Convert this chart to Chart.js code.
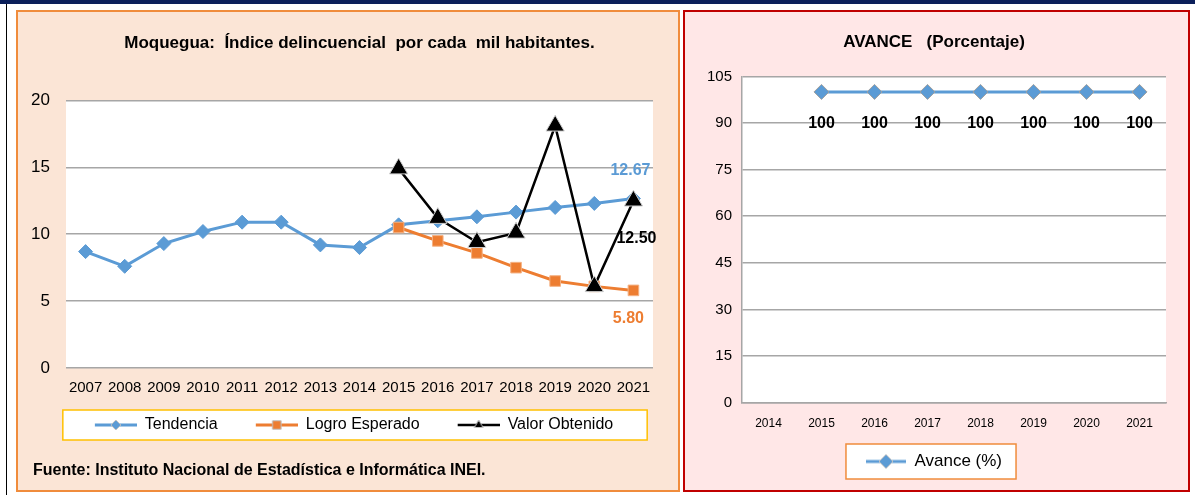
<!DOCTYPE html>
<html>
<head>
<meta charset="utf-8">
<script src="https://cdn.jsdelivr.net/npm/chart.js@4.4.1/dist/chart.umd.min.js"></script>
<style>
  body { margin: 0; width: 1195px; height: 495px; background: #fff; position: relative; overflow: hidden; font-family: "Liberation Sans", Arial, sans-serif; }
  #band { position: absolute; left: 0; top: 0; width: 1195px; height: 4px; background: #0b1f5a; }
  #vline { position: absolute; left: 6px; top: 4px; width: 1px; height: 491px; background: #000; }
  #left { position: absolute; left: 16px; top: 10px; width: 660px; height: 478px; background: #fbe5d6; border: 2px solid #f08c3c; }
  #right { position: absolute; left: 683px; top: 10px; width: 503px; height: 478px; background: #ffe7e7; border: 2px solid #c00000; }
  canvas { position: absolute; left: 0; top: 0; }
  #fuente { position: absolute; left: 15px; top: 449px; font-size: 16px; font-weight: bold; color: #000; white-space: nowrap; }
</style>
</head>
<body>
<div id="band"></div>
<div id="vline"></div>
<div id="left">
  <canvas id="c1" width="660" height="478"></canvas>
  <div id="fuente">Fuente: Instituto Nacional de Estadística e Informática INEI.</div>
</div>
<div id="right">
  <canvas id="c2" width="503" height="478"></canvas>
</div>
<script>
// left chart data
const years = ['2007','2008','2009','2010','2011','2012','2013','2014','2015','2016','2017','2018','2019','2020','2021'];
const tendencia = [8.7, 7.6, 9.3, 10.2, 10.9, 10.9, 9.2, 9.0, 10.7, 11.0, 11.3, 11.65, 12.0, 12.3, 12.67];
const logroEsperado = [null, null, null, null, null, null, null, null, 10.5, 9.5, 8.6, 7.5, 6.5, 6.1, 5.80];
const valorObtenido = [null, null, null, null, null, null, null, null, 14.9, 11.2, 9.4, 10.1, 18.1, 6.1, 12.50];

// right chart data
const avanceYears = ['2014','2015','2016','2017','2018','2019','2020','2021'];
const avance = [null, 100, 100, 100, 100, 100, 100, 100];

const BLUE = '#5b9bd5', ORANGE = '#ed7d31', BLACK = '#000000', GRID = '#a6a6a6';
const FONT = '"Liberation Sans", Arial, sans-serif';

Chart.defaults.font.family = FONT;
Chart.defaults.color = '#000';
Chart.defaults.animation = false;

// line + marker icon for the legend (margin = empty space on the left)
function legendIcon(color, style, radius, lw, w, margin) {
  const c = document.createElement('canvas');
  c.width = w + margin; c.height = 18;
  const g = c.getContext('2d');
  g.strokeStyle = color; g.lineWidth = lw;
  g.beginPath(); g.moveTo(margin, 9); g.lineTo(margin + w, 9); g.stroke();
  g.fillStyle = color; g.strokeStyle = '#bfbfbf'; g.lineWidth = 1;
  Chart.helpers.drawPoint(g, { pointStyle: style, radius: radius, borderWidth: 1, rotation: 0 }, margin + w / 2, 9);
  return c;
}

function iconLabels(chart) {
  return chart.data.datasets.map((d, i) => ({
    text: d.label, pointStyle: d.icon, datasetIndex: i, fontColor: '#000',
    lineWidth: 0, strokeStyle: 'transparent', fillStyle: 'transparent', hidden: false
  }));
}

// white plot area + framed legend box
const panelPlugin = {
  id: 'panel',
  beforeDraw(chart, args, opts) {
    const ctx = chart.ctx, a = chart.chartArea;
    ctx.save();
    ctx.fillStyle = '#fff';
    ctx.fillRect(a.left, a.top, a.right - a.left, a.bottom - a.top);
    const boxes = chart.legend && chart.legend.legendHitBoxes;
    if (boxes && boxes.length) {
      const l = Math.min(...boxes.map(b => b.left)) - opts.padL;
      const r = Math.max(...boxes.map(b => b.left + b.width)) + opts.padR;
      const t = Math.min(...boxes.map(b => b.top)) - opts.padY;
      const btm = Math.max(...boxes.map(b => b.top + b.height)) + opts.padY;
      ctx.fillStyle = '#fff';
      ctx.fillRect(l, t, r - l, btm - t);
      ctx.strokeStyle = opts.frame;
      ctx.lineWidth = 1.5;
      ctx.strokeRect(l, t, r - l, btm - t);
    }
    ctx.restore();
  }
};

// value labels next to points
const valueLabels = {
  id: 'valueLabels',
  afterDatasetsDraw(chart, args, opts) {
    const ctx = chart.ctx;
    ctx.save();
    ctx.font = 'bold 16px ' + FONT;
    ctx.textAlign = 'center';
    ctx.textBaseline = 'middle';
    (opts.items || []).forEach(it => {
      const meta = chart.getDatasetMeta(it.dataset);
      const data = chart.data.datasets[it.dataset].data;
      meta.data.forEach((pt, i) => {
        if (data[i] == null) return;
        if (it.index != null && it.index !== i) return;
        ctx.fillStyle = it.color;
        ctx.fillText(data[i].toFixed(it.digits), pt.x + it.dx, pt.y + it.dy);
      });
    });
    ctx.restore();
  }
};

new Chart(document.getElementById('c1'), {
  type: 'line',
  data: {
    labels: years,
    datasets: [
      { label: 'Tendencia', data: tendencia, order: 2, borderColor: BLUE, backgroundColor: BLUE, borderWidth: 3,
        pointStyle: 'rectRot', pointRadius: 7, pointBorderColor: BLUE, pointBorderWidth: 1,
        icon: legendIcon(BLUE, 'rectRot', 5, 3, 42, 29) },
      { label: 'Logro Esperado', data: logroEsperado, order: 1, borderColor: ORANGE, backgroundColor: ORANGE, borderWidth: 3,
        pointStyle: 'rect', pointRadius: 7.5, pointBorderColor: '#f4b183', pointBorderWidth: 1,
        icon: legendIcon(ORANGE, 'rect', 6, 3, 42, 29) },
      { label: 'Valor Obtenido', data: valorObtenido, order: 0, borderColor: BLACK, backgroundColor: BLACK, borderWidth: 2.5,
        pointStyle: 'triangle', pointRadius: 10.5, pointBorderColor: '#d0d0d0', pointBorderWidth: 1,
        icon: legendIcon(BLACK, 'triangle', 5, 2.5, 42, 29) }
    ]
  },
  options: {
    responsive: false,
    layout: { padding: { left: 8, right: 25, top: 0, bottom: 47 } },
    scales: {
      x: {
        offset: true,
        grid: { display: false, drawTicks: false },
        border: { display: false },
        ticks: { padding: 11, font: { size: 15 }, maxRotation: 0, autoSkip: false }
      },
      y: {
        min: 0, max: 20,
        afterFit(s) { s.width = 40; },
        grid: { color: GRID, lineWidth: 1.5, drawTicks: false },
        border: { display: false },
        ticks: { stepSize: 5, padding: 16, font: { size: 17 } }
      }
    },
    plugins: {
      title: { display: true, fullSize: false, text: 'Moquegua:  Índice delincuencial  por cada  mil habitantes.',
        font: { size: 17, weight: 'bold' }, padding: { top: 21, bottom: 47 } },
      legend: {
        position: 'bottom',
        labels: { usePointStyle: true, pointStyleWidth: 71, padding: 9, font: { size: 16 }, generateLabels: iconLabels }
      },
      tooltip: { enabled: false },
      panel: { padL: 3, padR: 34, padY: 7, frame: '#ffc000' },
      valueLabels: { items: [
        { dataset: 0, index: 14, dx: -3, dy: -28, color: BLUE, digits: 2 },
        { dataset: 2, index: 14, dx: 3, dy: 38, color: BLACK, digits: 2 },
        { dataset: 1, index: 14, dx: -5, dy: 28, color: ORANGE, digits: 2 }
      ] }
    }
  },
  plugins: [panelPlugin, valueLabels]
});

new Chart(document.getElementById('c2'), {
  type: 'line',
  data: {
    labels: avanceYears,
    datasets: [
      { label: 'Avance (%)', data: avance, borderColor: BLUE, backgroundColor: BLUE, borderWidth: 3,
        pointStyle: 'rectRot', pointRadius: 7.5, pointBorderColor: '#a0a0a0', pointBorderWidth: 1,
        icon: legendIcon(BLUE, 'rectRot', 7, 3, 40, 0) }
    ]
  },
  options: {
    responsive: false,
    layout: { padding: { left: 17, right: 22, top: 0, bottom: 10 } },
    scales: {
      x: {
        offset: true,
        grid: { display: false, drawTicks: false },
        border: { color: GRID, width: 1.5 },
        ticks: { padding: 14, font: { size: 12 }, maxRotation: 0, autoSkip: false }
      },
      y: {
        min: 0, max: 105,
        afterFit(s) { s.width = 40; },
        grid: { color: GRID, lineWidth: 1.5, drawTicks: false },
        border: { color: GRID, width: 1.5 },
        ticks: { stepSize: 15, padding: 10, font: { size: 15 } }
      }
    },
    plugins: {
      title: { display: true, text: 'AVANCE   (Porcentaje)',
        font: { size: 17, weight: 'bold' }, padding: { top: 20, bottom: 24 } },
      legend: {
        position: 'bottom',
        labels: { usePointStyle: true, pointStyleWidth: 40, padding: 8, font: { size: 17 }, generateLabels: iconLabels }
      },
      tooltip: { enabled: false },
      panel: { padL: 20, padR: 14, padY: 9, frame: '#f08c3c' },
      valueLabels: { items: [
        { dataset: 0, dx: 0, dy: 32, color: BLACK, digits: 0 }
      ] }
    }
  },
  plugins: [panelPlugin, valueLabels]
});
</script>
</body>
</html>
